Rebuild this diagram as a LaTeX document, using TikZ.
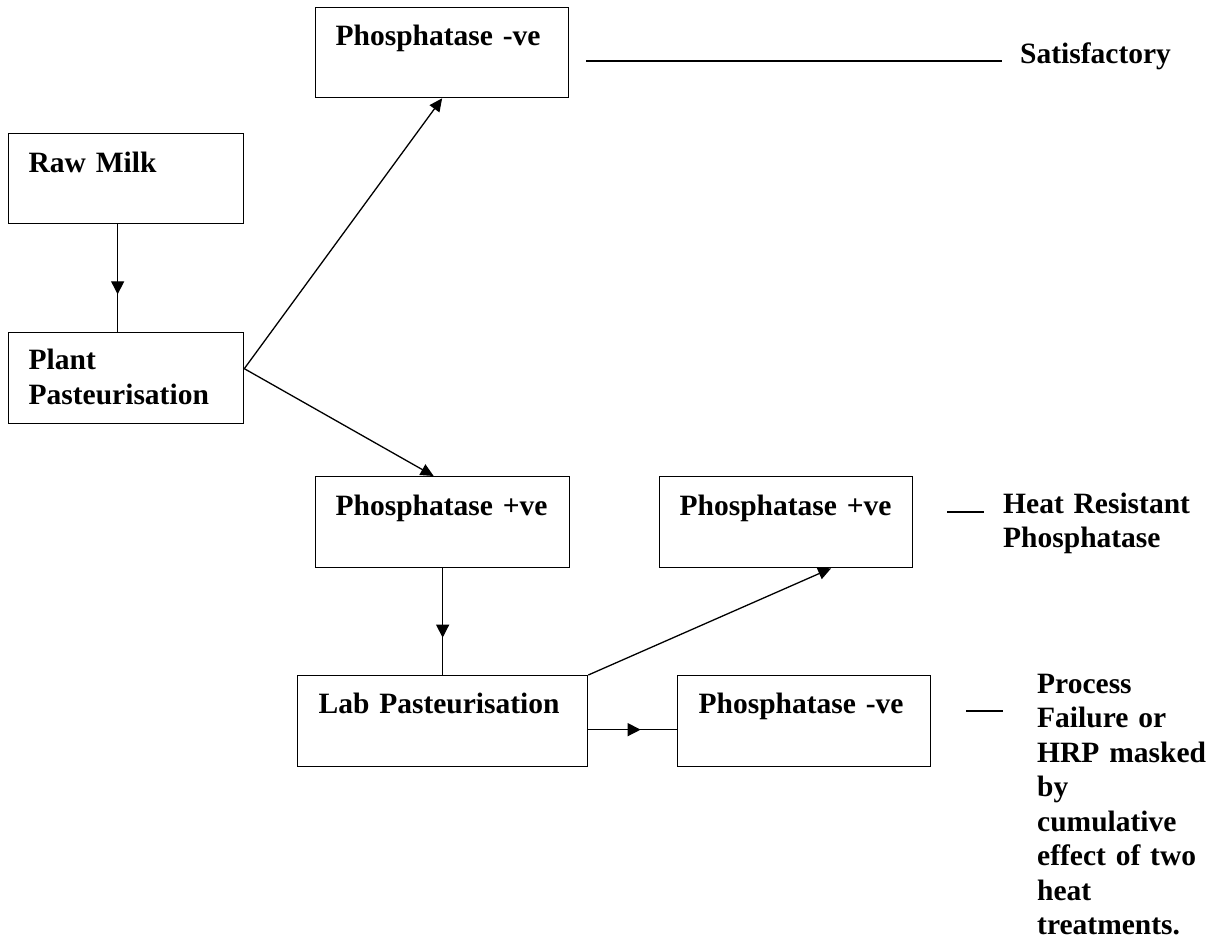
\documentclass[tikz,border=0pt]{standalone}
\usepackage{fontspec}
\setmainfont{Liberation Serif}
\usetikzlibrary{arrows.meta,decorations.markings}
\tikzset{
  box/.style={draw, line width=1.3pt, anchor=north west, inner ysep=0pt, inner xsep=20pt,
    align=left, font=\fontsize{29.5}{35}\selectfont\bfseries},
  lbl/.style={inner sep=0pt, anchor=base west, align=left,
    font=\fontsize{29.5}{34.5}\selectfont\bfseries},
  conn/.style={line width=1.3pt},
  tipconn/.style={line width=1.3pt, -{Triangle[length=13pt,width=12pt]}},
  midarrow/.style={line width=1.3pt, postaction={decorate},
    decoration={markings, mark=at position #1 with {\arrow{Triangle[length=13pt,width=13pt]}}}},
  resline/.style={line width=1.8pt}
}
\begin{document}
\begin{tikzpicture}[x=1pt, y=-1pt]
\useasboundingbox (0,0) rectangle (1220,943);

% boxes
\node[box, text width=213pt, text height=38pt, text depth=52pt] (pneg1) at (315,7) {Phosphatase -ve};
\node[box, text width=195pt, text height=39pt, text depth=51pt] (raw) at (8,133) {Raw Milk};
\node[box, text width=195pt, text height=37pt, text depth=54pt] (plant) at (8,332) {Plant\\Pasteurisation};
\node[box, text width=214pt, text height=39pt, text depth=52pt] (ppos1) at (315,476) {Phosphatase +ve};
\node[box, text width=213pt, text height=39pt, text depth=52pt] (ppos2) at (659,476) {Phosphatase +ve};
\node[box, inner xsep=21pt, text width=248pt, text height=38pt, text depth=53pt] (lab) at (297,675) {Lab Pasteurisation};
\node[box, inner xsep=21pt, text width=211pt, text height=38pt, text depth=53pt] (pneg2) at (677,675) {Phosphatase -ve};

% outcome labels
\node[lbl] (sat) at (1020,63) {Satisfactory};
\node[lbl, text width=215pt] (heat) at (1003,513) {Heat Resistant\\Phosphatase};
\node[lbl, text width=180pt] (proc) at (1037,693) {Process\\Failure or\\HRP masked\\by\\cumulative\\effect of two\\heat\\treatments.};

% result dashes
\coordinate (s1) at (586,61);
\coordinate (s2) at (1002,61);
\coordinate (h1) at (947,512);
\coordinate (h2) at (984,512);
\coordinate (p1) at (966,711);
\coordinate (p2) at (1003,711);
\draw[resline] (s1) -- (s2);
\draw[resline] (h1) -- (h2);
\draw[resline] (p1) -- (p2);

% connectors
\draw[midarrow=0.65] ([xshift=-8.5pt]raw.south) -- ([xshift=-8.5pt]plant.north);
\draw[tipconn] ([yshift=9.5pt]plant.east) -- (pneg1.south);
\draw[tipconn] ([yshift=9.5pt]plant.east) -- ([xshift=-9pt]ppos1.north);
\draw[midarrow=0.65] (ppos1.south) -- (lab.north);
\draw[tipconn] (lab.north east) -- ([xshift=45pt]ppos2.south);
\draw[midarrow=0.59] ([yshift=-8.5pt]lab.east) -- ([yshift=-8.5pt]pneg2.west);
\end{tikzpicture}
\end{document}
